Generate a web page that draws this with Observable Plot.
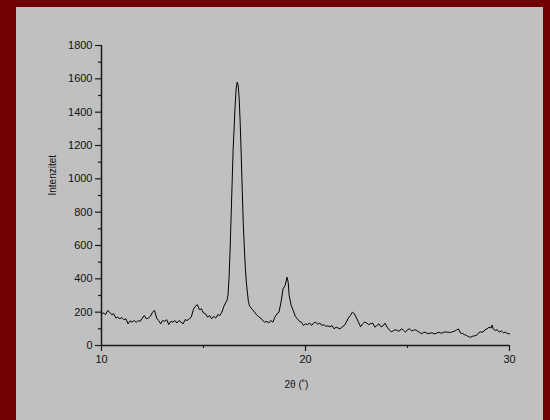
<!DOCTYPE html>
<html>
<head>
<meta charset="utf-8">
<script src="https://cdn.jsdelivr.net/npm/d3@7"></script>
<script src="https://cdn.jsdelivr.net/npm/@observablehq/plot@0.6"></script>
<style>
  html, body { margin: 0; padding: 0; }
  body { width: 550px; height: 420px; background: #730000; position: relative; overflow: hidden; }
  #panel { position: absolute; left: 16px; top: 7px; width: 527px; height: 413px; background: #c0c0c0; }
  #panel svg { display: block; }
</style>
</head>
<body>
<div id="panel"></div>
<script>
const theta = [
  10.0,10.1,10.2,10.3,10.4,10.5,10.6,10.7,10.8,10.9,
  11.0,11.1,11.2,11.3,11.4,11.5,11.6,11.7,11.8,11.9,
  12.0,12.1,12.2,12.3,12.4,12.5,12.6,12.7,12.8,12.9,
  13.0,13.1,13.2,13.3,13.4,13.5,13.6,13.7,13.8,13.9,
  14.0,14.1,14.2,14.3,14.4,14.5,14.6,14.7,14.8,14.9,
  15.0,15.1,15.2,15.3,15.4,15.5,15.6,15.7,15.8,15.9,
  16.0,16.1,16.15,16.2,16.25,16.3,16.35,16.4,16.45,16.5,
  16.55,16.6,16.65,16.7,16.75,16.8,16.85,16.9,16.95,17.0,
  17.05,17.1,17.15,17.2,17.25,17.3,17.4,17.5,17.6,17.7,
  17.8,17.9,18.0,18.1,18.2,18.3,18.4,18.5,18.6,18.7,
  18.8,18.9,19.0,19.1,19.15,19.2,19.3,19.4,19.5,19.6,
  19.7,19.8,19.9,20.0,20.1,20.2,20.3,20.4,20.5,20.6,
  20.7,20.8,20.9,21.0,21.1,21.2,21.3,21.4,21.5,21.6,
  21.7,21.8,21.9,22.0,22.1,22.2,22.3,22.4,22.5,22.6,
  22.7,22.8,22.9,23.0,23.1,23.2,23.3,23.4,23.5,23.6,
  23.7,23.8,23.9,24.0,24.1,24.2,24.3,24.4,24.5,24.6,
  24.7,24.8,24.9,25.0,25.1,25.2,25.3,25.4,25.5,25.6,
  25.7,25.8,25.9,26.0,26.1,26.2,26.3,26.4,26.5,26.6,
  26.7,26.8,26.9,27.0,27.1,27.2,27.3,27.4,27.5,27.6,
  27.7,27.8,27.9,28.0,28.1,28.2,28.3,28.4,28.5,28.6,
  28.7,28.8,28.9,29.0,29.1,29.15,29.2,29.3,29.4,29.5,
  29.6,29.7,29.8,29.9,30.0
];
const intensity = [
  190,195,185,210,200,185,190,165,170,160,
  168,155,160,130,148,140,150,138,150,145,
  165,180,160,165,175,200,210,165,150,130,
  150,145,155,125,145,140,150,135,150,140,
  130,155,150,160,170,215,235,245,215,220,
  195,190,170,180,160,175,165,185,180,200,
  235,260,270,300,400,560,760,960,1170,1300,
  1440,1540,1580,1560,1480,1330,1140,930,730,590,
  470,380,320,265,240,230,215,200,185,172,
  165,150,140,145,135,150,140,170,190,200,
  260,340,360,410,380,300,240,210,175,160,
  145,140,120,130,125,135,120,135,140,128,
  135,120,125,115,118,112,120,100,110,105,
  100,112,120,140,165,180,200,190,165,140,
  112,130,140,135,125,132,134,110,120,130,
  112,118,134,110,95,82,88,95,90,86,
  100,92,80,95,100,88,92,94,85,78,
  70,80,78,70,74,76,70,72,80,76,
  74,82,80,80,78,82,86,92,100,74,
  72,65,60,52,50,56,58,62,78,82,
  80,95,100,110,105,122,100,90,95,80,
  88,76,80,72,70
];
const xMajor = [10, 20, 30];
const xMinor = [15, 25];
const yMajor = [0, 200, 400, 600, 800, 1000, 1200, 1400, 1600, 1800];
const yMinor = [100, 300, 500, 700, 900, 1100, 1300, 1500, 1700];
const xLabel = "2θ (˚)";
const yLabel = "Intenzitet";

const data = theta.map((t, i) => ({theta: t, intensity: intensity[i]}));

const axisColor = "#1a1a1a";
const chart = Plot.plot({
  width: 527,
  height: 413,
  marginLeft: 85,
  marginRight: 34,
  marginTop: 38,
  marginBottom: 75,
  style: {background: "transparent", fontFamily: "'Liberation Sans', Arial, sans-serif", fontSize: "11px", color: "#111"},
  x: {domain: [10, 30]},
  y: {domain: [0, 1800]},
  marks: [
    Plot.axisX({ticks: xMajor, tickSize: 6, tickPadding: 4, tickFormat: d => String(d), label: null, stroke: axisColor, strokeWidth: 1.2, fill: "#111"}),
    Plot.axisX({ticks: xMinor, tickSize: 3, tickFormat: () => "", label: null, stroke: axisColor, strokeWidth: 1.2}),
    Plot.axisY({ticks: yMajor, tickSize: 6, tickPadding: 3, tickFormat: d => String(d), label: null, stroke: axisColor, strokeWidth: 1.2, fill: "#111"}),
    Plot.axisY({ticks: yMinor, tickSize: 3, tickFormat: () => "", label: null, stroke: axisColor, strokeWidth: 1.2}),
    Plot.ruleY([0], {stroke: axisColor, strokeWidth: 1.5}),
    Plot.ruleX([10], {stroke: axisColor, strokeWidth: 1.5}),
    Plot.line(data, {x: "theta", y: "intensity", stroke: "#000", strokeWidth: 1}),
    Plot.text([yLabel], {text: d => d, frameAnchor: "left", dx: -49, rotate: -90, fontSize: 10, fill: "#111"}),
    Plot.text([xLabel], {text: d => d, frameAnchor: "bottom", dy: 42, dx: -9, fontSize: 10, fill: "#111"})
  ]
});
document.getElementById("panel").appendChild(chart);
</script>
</body>
</html>
